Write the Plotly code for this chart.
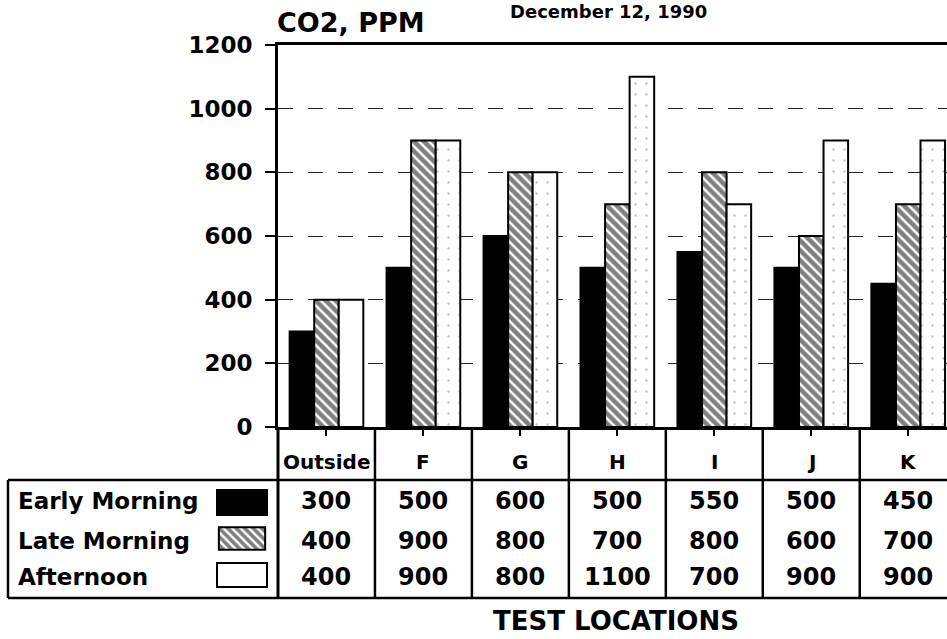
import plotly.graph_objects as go

# ---------------- data ----------------
categories = ["Outside", "F", "G", "H", "I", "J", "K"]
early_morning = [300, 500, 600, 500, 550, 500, 450]
late_morning = [400, 900, 800, 700, 800, 600, 700]
afternoon = [400, 900, 800, 1100, 700, 900, 900]
series_names = ["Early Morning", "Late Morning", "Afternoon"]
y_ticks = [0, 200, 400, 600, 800, 1000, 1200]
title_text = "December 12, 1990"
y_title = "CO2, PPM"
x_title = "TEST LOCATIONS"

# ---------------- geometry helpers (figure pixels -> paper) ----------------
W, H = 947, 639


def X(px):
    return px / W


def Y(py):
    return 1 - py / H


FONT = "DejaVu Sans"
PLOT_L, PLOT_T, PLOT_B = 278, 45, 427
LINE_W = 2.5

hatch = dict(shape="\\", fgcolor="black", bgcolor="white", size=7, solidity=0.65)
stipple_shapes = ["" if c == "Outside" else "." for c in categories]
stipple = dict(shape=stipple_shapes, fgcolor="#888888", bgcolor="white", size=11, solidity=0.04)

fig = go.Figure()
fig.add_trace(go.Bar(
    x=categories, y=early_morning, name=series_names[0],
    marker=dict(color="black", line=dict(color="black", width=2)),
))
fig.add_trace(go.Bar(
    x=categories, y=late_morning, name=series_names[1],
    marker=dict(color="white", line=dict(color="black", width=2), pattern=hatch),
))
fig.add_trace(go.Bar(
    x=categories, y=afternoon, name=series_names[2],
    marker=dict(color="white", line=dict(color="black", width=2), pattern=stipple),
))

# hatched legend swatch drawn as a tiny bar on its own axes
fig.add_trace(go.Bar(
    x=[0], y=[1], width=[1], xaxis="x2", yaxis="y2", showlegend=False,
    marker=dict(color="white", line=dict(color="black", width=2),
                pattern=dict(shape="\\", fgcolor="black", bgcolor="white", size=6, solidity=0.6)),
    hoverinfo="skip",
))

fig.update_layout(
    width=W, height=H,
    margin=dict(l=0, r=0, t=0, b=0, pad=0, autoexpand=False),
    paper_bgcolor="white", plot_bgcolor="white",
    showlegend=False,
    barmode="group", bargap=0.24, bargroupgap=0,
    xaxis=dict(
        domain=[X(PLOT_L), 1.0], type="category", range=[-0.5, 6.4],
        showline=True, linecolor="black", linewidth=3, mirror=True,
        ticks="outside", ticklen=6, tickwidth=2, tickcolor="black",
        showticklabels=False, showgrid=False, zeroline=False, automargin=False,
    ),
    yaxis=dict(
        domain=[Y(PLOT_B), Y(PLOT_T)], range=[0, 1200], tickvals=y_ticks,
        showline=True, linecolor="black", linewidth=3,
        ticks="outside", ticklen=10, tickwidth=2, tickcolor="black",
        tickfont=dict(family=FONT, size=23, color="black", weight="bold"),
        ticklabelstandoff=8,
        showgrid=True, gridcolor="#222222", gridwidth=1, griddash="longdash",
        zeroline=False, automargin=False,
    ),
    xaxis2=dict(domain=[X(217), X(267)], range=[-0.54, 0.54], visible=False,
                anchor="y2", fixedrange=True, automargin=False),
    yaxis2=dict(domain=[Y(551), Y(526)], range=[-0.05, 1.05], visible=False,
                anchor="x2", fixedrange=True, automargin=False),
)

shapes = []
# table column dividers (y-axis extension + category boundaries)
shapes.append(dict(type="line", xref="paper", yref="paper",
                   x0=X(PLOT_L), x1=X(PLOT_L), y0=Y(598), y1=Y(PLOT_B),
                   line=dict(color="black", width=3)))
for i in range(1, len(categories)):
    shapes.append(dict(type="line", xref="x", yref="paper",
                       x0=i - 0.5, x1=i - 0.5, y0=Y(598), y1=Y(PLOT_B),
                       line=dict(color="black", width=LINE_W)))
# table horizontal rules and left border
for py in (480, 598):
    shapes.append(dict(type="line", xref="paper", yref="paper",
                       x0=X(8), x1=1.0, y0=Y(py), y1=Y(py),
                       line=dict(color="black", width=LINE_W)))
shapes.append(dict(type="line", xref="paper", yref="paper",
                   x0=X(8), x1=X(8), y0=Y(480), y1=Y(598),
                   line=dict(color="black", width=LINE_W)))
# legend swatches: solid black and plain white
shapes.append(dict(type="rect", xref="paper", yref="paper",
                   x0=X(217), x1=X(267), y0=Y(515), y1=Y(490),
                   fillcolor="black", line=dict(color="black", width=2)))
shapes.append(dict(type="rect", xref="paper", yref="paper",
                   x0=X(217), x1=X(267), y0=Y(587), y1=Y(563),
                   fillcolor="white", line=dict(color="black", width=2)))
fig.update_layout(shapes=shapes)

bold = dict(family=FONT, color="black", weight="bold")
ann = []
ann.append(dict(text=title_text, xref="paper", yref="paper", x=X(608), y=1.0,
                xanchor="center", yanchor="top", borderpad=0, showarrow=False,
                font=dict(size=18, **bold)))
ann.append(dict(text=y_title, xref="paper", yref="paper", x=X(275), y=Y(23),
                xanchor="left", yanchor="middle", showarrow=False,
                font=dict(size=27, **bold)))
ann.append(dict(text=x_title, xref="paper", yref="paper", x=X(616), y=Y(621),
                xanchor="center", yanchor="middle", borderpad=0, showarrow=False,
                font=dict(size=26, **bold)))
# header row
for c in categories:
    ann.append(dict(text=c, xref="x", yref="paper", x=c, y=Y(462),
                    xanchor="center", yanchor="middle", showarrow=False,
                    font=dict(size=20, **bold)))
# legend labels + values
row_y = [501, 541, 577]
series_vals = [early_morning, late_morning, afternoon]
for name, vals, py in zip(series_names, series_vals, row_y):
    ann.append(dict(text=name, xref="paper", yref="paper", x=X(16), y=Y(py),
                    xanchor="left", yanchor="middle", showarrow=False,
                    font=dict(size=23, **bold)))
    for c, v in zip(categories, vals):
        ann.append(dict(text=str(v), xref="x", yref="paper", x=c, y=Y(py),
                        xanchor="center", yanchor="middle", showarrow=False,
                        font=dict(size=24, **bold)))
fig.update_layout(annotations=ann)

fig.write_html("out.html")
